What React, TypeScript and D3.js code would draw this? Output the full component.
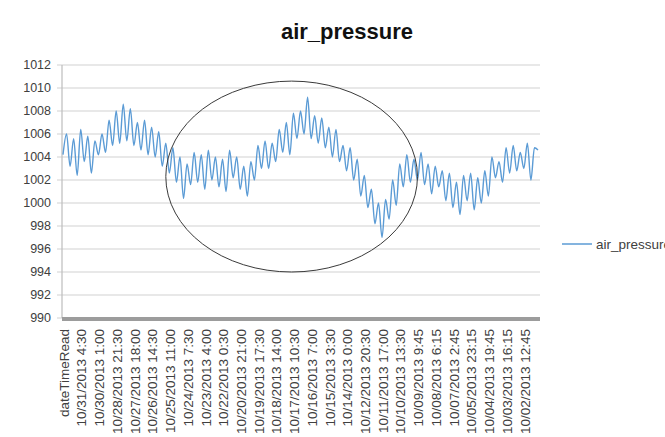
import React from "react";
import * as d3 from "d3";

const title = "air_pressure";
const seriesName = "air_pressure";

// air pressure readings (hPa), newest first
const pressure = [
  1004.2, 1006.0, 1003.2, 1005.6, 1002.4, 1006.4, 1003.6, 1005.8, 1002.6, 1005.4,
  1004.2, 1006.0, 1004.4, 1007.2, 1005.0, 1008.0, 1005.2, 1008.6, 1005.4, 1008.2,
  1005.0, 1007.0, 1004.6, 1007.2, 1004.2, 1006.6, 1004.0, 1006.2, 1003.2, 1005.2,
  1002.6, 1004.8, 1001.8, 1004.0, 1000.4, 1003.4, 1001.6, 1004.4, 1001.8, 1004.2,
  1001.2, 1004.6, 1002.0, 1004.0, 1001.4, 1003.8, 1001.0, 1004.6, 1002.2, 1004.0,
  1001.2, 1003.2, 1000.6, 1003.6, 1002.0, 1005.0, 1003.0, 1005.4, 1003.0, 1005.2,
  1003.6, 1006.4, 1004.4, 1007.0, 1004.2, 1007.8, 1005.6, 1008.0, 1006.0, 1009.2,
  1005.6, 1007.6, 1005.2, 1007.4, 1004.8, 1006.6, 1004.0, 1006.4, 1003.6, 1005.0,
  1002.8, 1004.8, 1002.0, 1003.8, 1000.6, 1002.4, 999.6, 1001.2, 998.2, 1000.0,
  997.0, 1000.3, 998.6, 1002.0, 999.8, 1003.4, 1001.4, 1004.2, 1001.8, 1003.8,
  1002.0, 1004.4, 1001.6, 1003.4, 1000.8, 1003.2, 1001.4, 1002.8, 1000.2, 1002.6,
  999.6, 1001.8, 999.0, 1002.4, 1000.2, 1002.6, 999.4, 1002.2, 1000.0, 1002.8,
  1000.6, 1004.0, 1002.2, 1003.6, 1001.8, 1004.8, 1002.6, 1005.0, 1002.8, 1004.4,
  1003.0, 1005.2, 1002.0, 1004.8, 1004.6,
];

const xLabels = [
  "dateTimeRead",
  "10/31/2013 4:30",
  "10/30/2013 1:00",
  "10/28/2013 21:30",
  "10/27/2013 18:00",
  "10/26/2013 14:30",
  "10/25/2013 11:00",
  "10/24/2013 7:30",
  "10/23/2013 4:00",
  "10/22/2013 0:30",
  "10/20/2013 21:00",
  "10/19/2013 17:30",
  "10/18/2013 14:00",
  "10/17/2013 10:30",
  "10/16/2013 7:00",
  "10/15/2013 3:30",
  "10/14/2013 0:00",
  "10/12/2013 20:30",
  "10/11/2013 17:00",
  "10/10/2013 13:30",
  "10/09/2013 9:45",
  "10/08/2013 6:15",
  "10/07/2013 2:45",
  "10/05/2013 23:15",
  "10/04/2013 19:45",
  "10/03/2013 16:15",
  "10/02/2013 12:45",
];
const labelEvery = 5;

const yTicks = [990, 992, 994, 996, 998, 1000, 1002, 1004, 1006, 1008, 1010, 1012];

// annotation ellipse in data units: center (point index, hPa), radii (points, hPa)
const ellipseCenter = [64.5, 1002.3];
const ellipseRadius = [35.5, 8.3];

const W = 665;
const H = 437;
const M = { left: 63, right: 127, top: 65, bottom: 119 };

export default function App() {
  const x = d3
    .scaleLinear()
    .domain([0, pressure.length - 1])
    .range([M.left, W - M.right]);
  const y = d3
    .scaleLinear()
    .domain([yTicks[0], yTicks[yTicks.length - 1]])
    .range([H - M.bottom, M.top]);

  const line = d3
    .line<number>()
    .x((_, i) => x(i))
    .y((d) => y(d))
    .curve(d3.curveMonotoneX);

  const plotLeft = M.left - 1;
  const plotRight = W - M.right + 2;
  const font = "'Liberation Sans', Arial, sans-serif";

  const ex = x(ellipseCenter[0]);
  const ey = y(ellipseCenter[1]);
  const erx = x(ellipseCenter[0] + ellipseRadius[0]) - ex;
  const ery = ey - y(ellipseCenter[1] + ellipseRadius[1]);

  return (
    <svg
      width={W}
      height={H}
      style={{ position: "absolute", left: 0, top: 0, background: "#fff" }}
      fontFamily={font}
    >
      <text
        x={347}
        y={39}
        textAnchor="middle"
        fontSize={22}
        fontWeight="bold"
        fill="#111"
      >
        {title}
      </text>

      {yTicks.map((t) => (
        <g key={t}>
          <line
            x1={plotLeft - 5}
            x2={plotRight}
            y1={y(t)}
            y2={y(t)}
            stroke="#d2d2d2"
            strokeWidth={1.2}
          />
          <text
            x={51}
            y={y(t)}
            dy="0.35em"
            textAnchor="end"
            fontSize={12.5}
            fill="#404040"
          >
            {t}
          </text>
        </g>
      ))}

      <line
        x1={plotLeft}
        x2={plotLeft}
        y1={y(yTicks[yTicks.length - 1])}
        y2={y(yTicks[0])}
        stroke="#bdbdbd"
        strokeWidth={1.2}
      />

      <path
        d={line(pressure) ?? ""}
        fill="none"
        stroke="#5b9bd5"
        strokeWidth={1.4}
        strokeLinejoin="round"
      />

      <line
        x1={plotLeft}
        x2={plotRight}
        y1={y(yTicks[0]) + 1}
        y2={y(yTicks[0]) + 1}
        stroke="#9c9c9c"
        strokeWidth={4}
      />

      {xLabels.map((lab, i) => (
        <text
          key={lab}
          transform={`translate(${x(i * labelEvery) + 1},${y(yTicks[0]) + 11}) rotate(-90)`}
          textAnchor="end"
          dy="0.35em"
          fontSize={13.5}
          fill="#404040"
        >
          {lab}
        </text>
      ))}

      <ellipse cx={ex} cy={ey} rx={erx} ry={ery} fill="none" stroke="#3a3a3a" strokeWidth={1} />

      <line x1={562} x2={592} y1={244} y2={244} stroke="#5b9bd5" strokeWidth={1.5} />
      <text x={596} y={244} dy="0.35em" fontSize={13.5} fill="#404040">
        {seriesName}
      </text>
    </svg>
  );
}
